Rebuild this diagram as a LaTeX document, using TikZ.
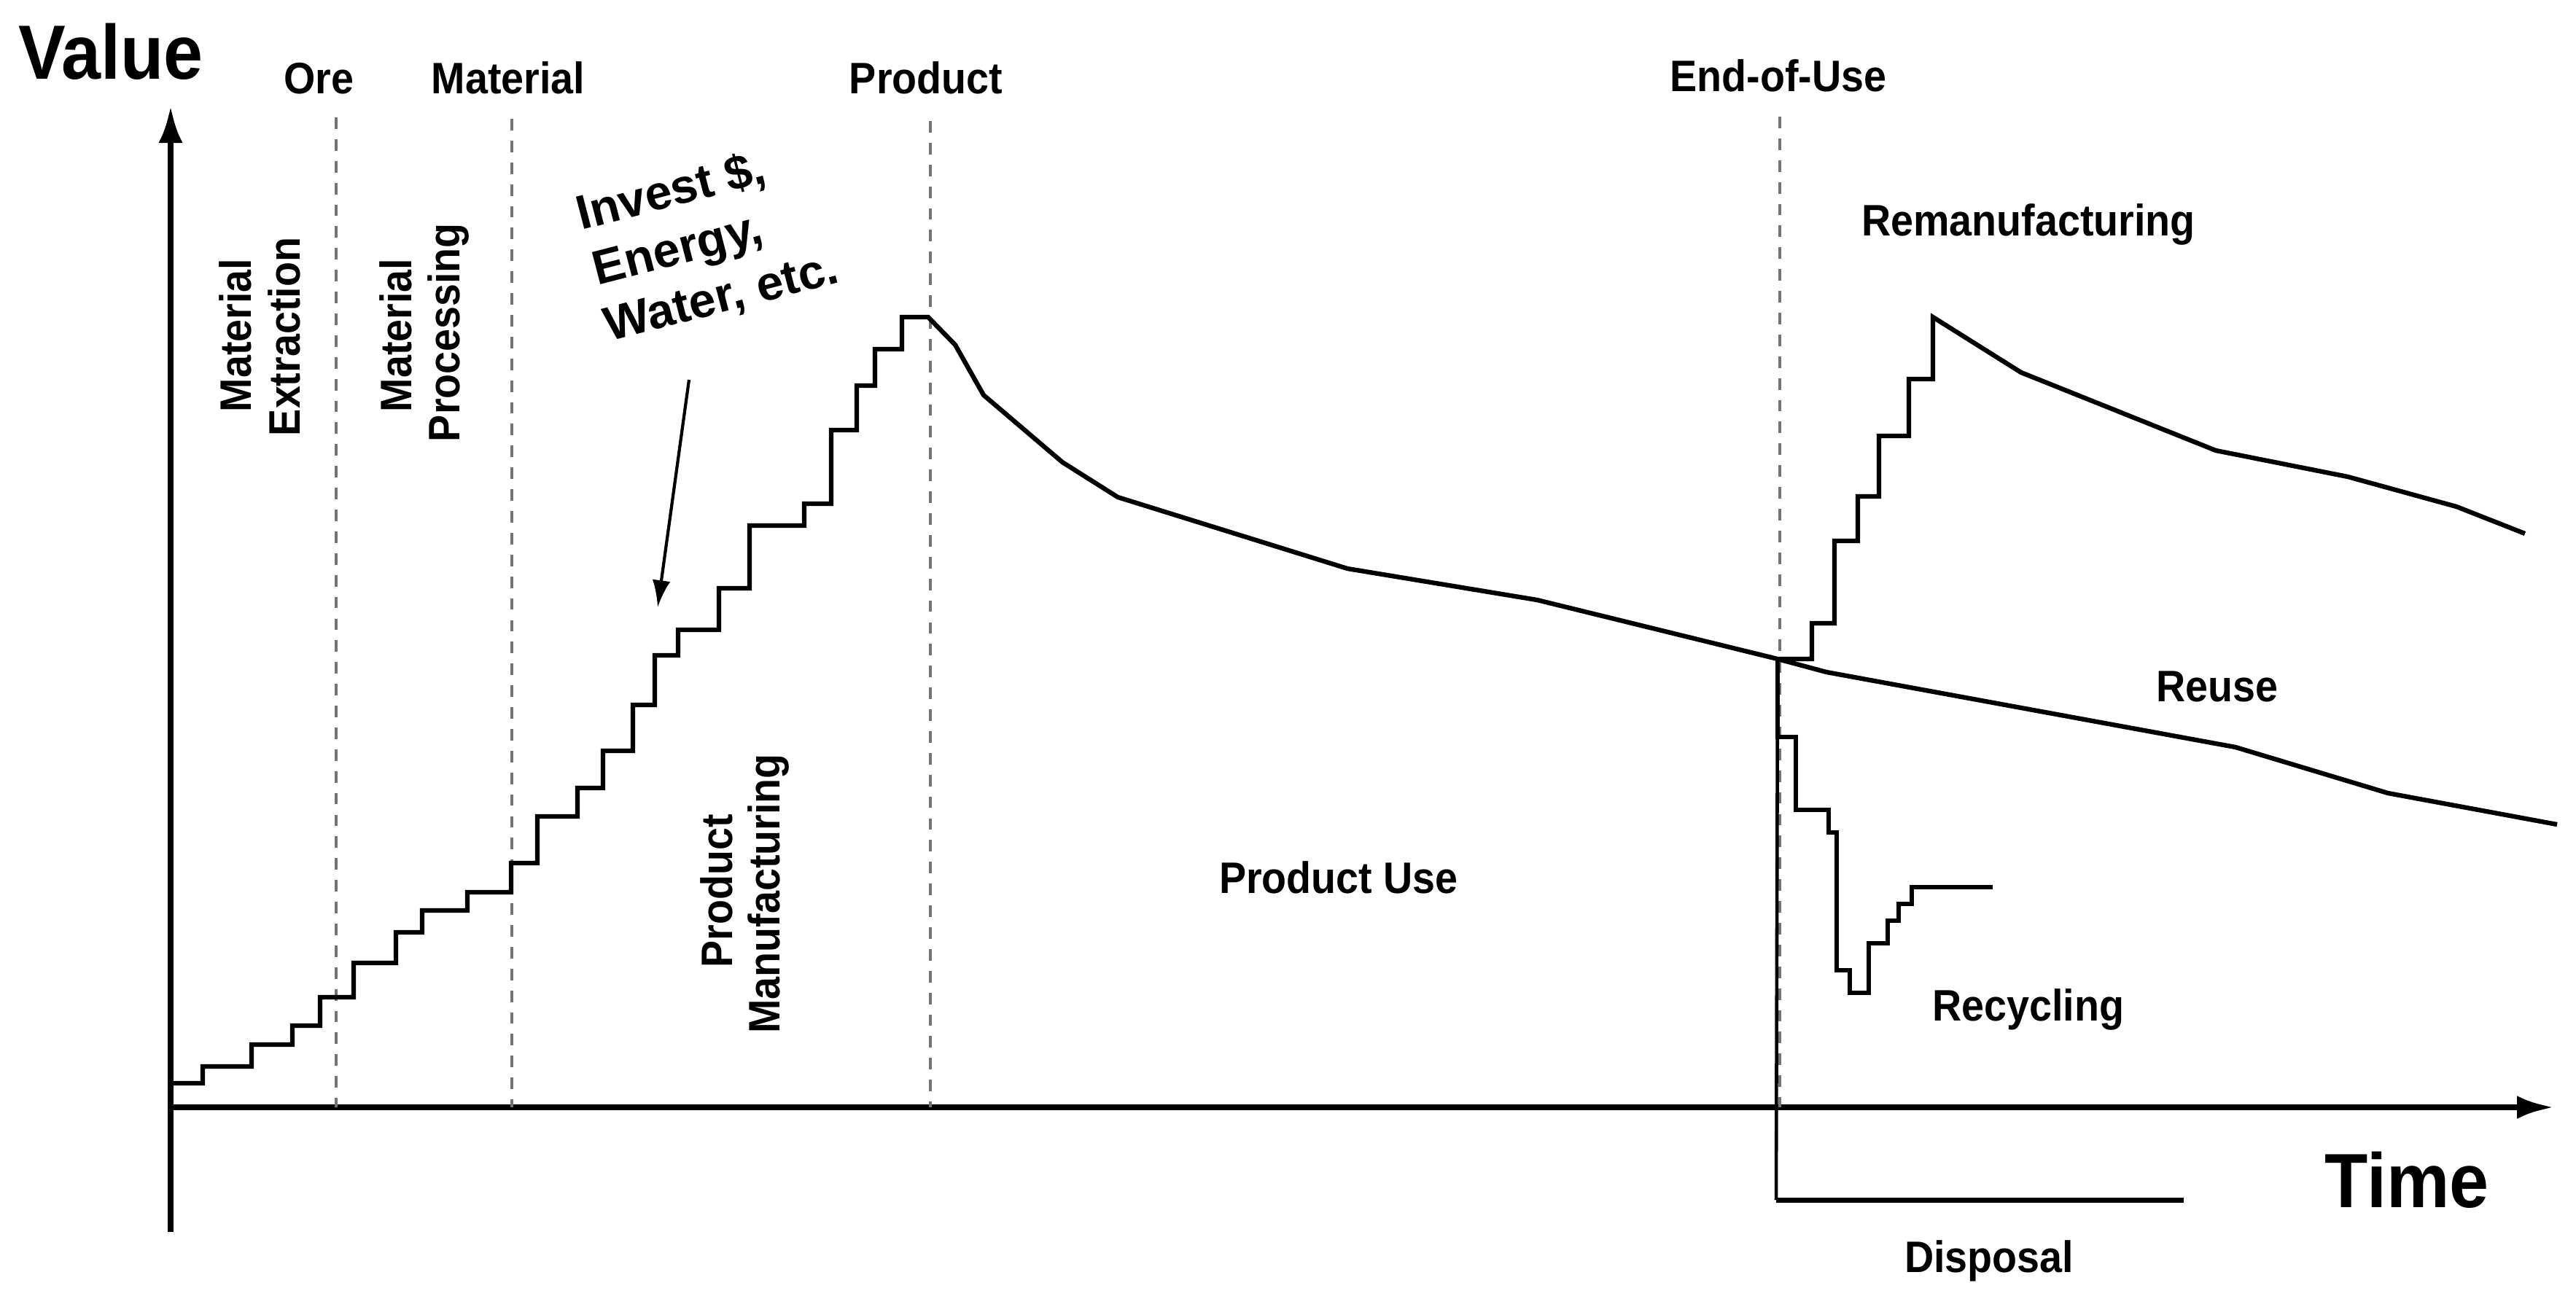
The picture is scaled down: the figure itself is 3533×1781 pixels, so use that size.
\documentclass[tikz,border=0pt]{standalone}
\usepackage{fontspec}
\setmainfont{Liberation Sans}[FakeStretch=0.92]
\newfontfamily\plainsans{Liberation Sans}
\usetikzlibrary{arrows.meta}
\begin{document}
\begin{tikzpicture}[x=0.01cm,y=-0.01cm,
  lab/.style={font=\fontsize{17.2}{20}\selectfont\bfseries, inner sep=0pt},
  note/.style={font=\plainsans\fontsize{18.8}{22}\selectfont\bfseries, inner sep=0pt},
  big/.style={font=\fontsize{30}{34}\selectfont\bfseries, inner sep=0pt},
  axis/.style={line width=2.5pt},
  curve/.style={line width=1.8pt, line join=miter},
  guide/.style={draw=black!55, line width=1.2pt, dash pattern=on 4.5pt off 4pt},
  pointer/.style={line width=1.2pt, -{Latex[length=10.5pt,width=7pt]}}]
\useasboundingbox (0,0) rectangle (3533,1781);

% axes
\coordinate (origin) at (234,1519);
\coordinate (ybot) at (234,1690);
\coordinate (ytop) at (234,145);
\coordinate (xend) at (3503,1519);
\draw[axis, -{Latex[length=14.5pt,width=9.4pt]}] (ybot) -- (ytop);
\draw[axis, -{Latex[length=14.5pt,width=9pt]}] (origin) -- (xend);

% dashed stage separators
\coordinate (d1t) at (461,161);  \coordinate (d1b) at (461,1519);
\coordinate (d2t) at (702,163);  \coordinate (d2b) at (702,1519);
\coordinate (d3t) at (1276,166); \coordinate (d3b) at (1276,1519);
\coordinate (d4t) at (2441,160); \coordinate (d4b) at (2441,1519);
\draw[guide] (d1t) -- (d1b);
\draw[guide] (d2t) -- (d2b);
\draw[guide] (d3t) -- (d3b);
\draw[guide] (d4t) -- (d4b);

% value-added staircase and use-phase decline
\draw[curve] (236,1486) -- (278,1486) -- (278,1463) -- (345,1463) -- (345,1433)
  -- (401,1433) -- (401,1407) -- (439,1407) -- (439,1368) -- (485,1368)
  -- (485,1321) -- (543,1321) -- (543,1279) -- (579,1279) -- (579,1249)
  -- (641,1249) -- (641,1224) -- (701,1224) -- (701,1184) -- (737,1184)
  -- (737,1120) -- (792,1120) -- (792,1081) -- (827,1081) -- (827,1030)
  -- (868,1030) -- (868,967) -- (898,967) -- (898,899) -- (930,899)
  -- (930,864) -- (986,864) -- (986,807) -- (1028,807) -- (1028,721)
  -- (1103,721) -- (1103,691) -- (1140,691) -- (1140,590) -- (1175,590)
  -- (1175,529) -- (1200,529) -- (1200,479) -- (1237,479) -- (1237,435)
  -- (1273,435) -- (1310,473) -- (1349,542) -- (1457,634) -- (1533,682)
  -- (1848,780) -- (2108,823) -- (2438,904);
\coordinate (eou) at (2438,904);

% reuse
\draw[curve] (eou) -- (2505,922) -- (3066,1025) -- (3275,1088) -- (3507,1131);

% remanufacturing
\draw[curve] (eou) -- (2485,904) -- (2485,855) -- (2516,855) -- (2516,742)
  -- (2548,742) -- (2548,681) -- (2577,681) -- (2577,598) -- (2618,598)
  -- (2618,520) -- (2651,520) -- (2651,435) -- (2772,511) -- (3039,618)
  -- (3220,654) -- (3369,695) -- (3463,732);

% recycling
\draw[curve, line width=1.6pt] (eou) -- (2438,1011) -- (2463,1011) -- (2463,1111)
  -- (2508,1111) -- (2508,1142) -- (2519,1142) -- (2519,1331) -- (2537,1331)
  -- (2537,1362) -- (2563,1362) -- (2563,1294) -- (2589,1294) -- (2589,1263)
  -- (2604,1263) -- (2604,1240) -- (2622,1240) -- (2622,1217) -- (2733,1217);

% disposal
\coordinate (dispc) at (2436,1646);
\draw[line width=1.3pt] (eou) -- (dispc);
\draw[line width=2pt] (dispc) -- (2995,1646);

% labels
\node[big, anchor=base] (value) at (152,108) {Value};
\node[big, anchor=base] (time) at (3301,1656) {Time};
\node[lab, anchor=base] (ore) at (437,128) {Ore};
\node[lab, anchor=base] (material) at (697,128) {Material};
\node[lab, anchor=base] (product) at (1270,128) {Product};
\node[lab, anchor=base] (endofuse) at (2439,125) {End-of-Use};
\node[lab, anchor=base] (reman) at (2782,323) {Remanufacturing};
\node[lab, anchor=base] (use) at (1836,1225) {Product Use};
\node[lab, anchor=base] (reuse) at (3041,962) {Reuse};
\node[lab, anchor=base] (recyc) at (2782,1400) {Recycling};
\node[lab, anchor=base] (disp) at (2728,1745) {Disposal};

\node[lab, rotate=90, anchor=base] (me1) at (344,460) {Material};
\node[lab, rotate=90, anchor=base] (me2) at (411,462) {Extraction};
\node[lab, rotate=90, anchor=base] (mp1) at (564,460) {Material};
\node[lab, rotate=90, anchor=base] (mp2) at (630,456) {Processing};
\node[lab, rotate=90, anchor=base] (pm1) at (1004,1222) {Product};
\node[lab, rotate=90, anchor=base] (pm2) at (1069,1226) {Manufacturing};

\node[note, rotate=14.5, anchor=base west] (inv1) at (797,316) {Invest \$,};
\node[note, rotate=14.5, anchor=base west] (inv2) at (819,392) {Energy,};
\node[note, rotate=14.5, anchor=base west] (inv3) at (835,469) {Water, etc.};

\coordinate (arrs) at (945,521);
\coordinate (arre) at (902,833);
\draw[pointer] (arrs) -- (arre);
\end{tikzpicture}
\end{document}
